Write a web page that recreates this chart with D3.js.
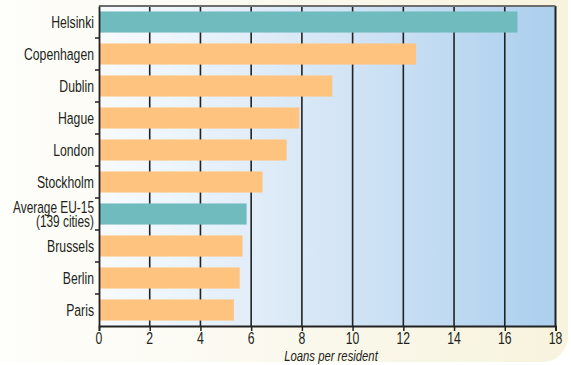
<!DOCTYPE html>
<html>
<head>
<meta charset="utf-8">
<script src="https://cdn.jsdelivr.net/npm/d3@7"></script>
<style>
  html, body { margin: 0; padding: 0; background: #ffffff; }
  svg { display: block; }
  text { font-family: "Liberation Sans", Arial, sans-serif; fill: #231f20; }
</style>
</head>
<body>
<script>
const categories = ["Helsinki", "Copenhagen", "Dublin", "Hague", "London", "Stockholm", "Average EU-15|(139 cities)", "Brussels", "Berlin", "Paris"];
const values = [16.5, 12.5, 9.2, 7.9, 7.4, 6.45, 5.82, 5.66, 5.55, 5.32];
const highlighted = [true, false, false, false, false, false, true, false, false, false];
const xTicks = [0, 2, 4, 6, 8, 10, 12, 14, 16, 18];
const xTitle = "Loans per resident";

const W = 571, H = 365;
const margin = { left: 99, right: 15, top: 6, bottom: 39 };
const SX = 0.72; // condensed look

const svg = d3.select("body").append("svg").attr("width", W).attr("height", H);
const defs = svg.append("defs");

const pg = defs.append("linearGradient").attr("id", "panelGrad").attr("x1", "0").attr("x2", "1").attr("y1", "0").attr("y2", "0");
pg.append("stop").attr("offset", "0").attr("stop-color", "#fefefb");
pg.append("stop").attr("offset", "0.35").attr("stop-color", "#fcfbf4");
pg.append("stop").attr("offset", "1").attr("stop-color", "#f7f3dd");

const bg = defs.append("linearGradient").attr("id", "plotGrad").attr("x1", "0").attr("x2", "1").attr("y1", "0").attr("y2", "0");
bg.append("stop").attr("offset", "0").attr("stop-color", "#f8fbfe");
bg.append("stop").attr("offset", "0.5").attr("stop-color", "#d6e6f6");
bg.append("stop").attr("offset", "1").attr("stop-color", "#abcfee");

// panel
svg.append("rect").attr("x", -30).attr("y", -30).attr("width", 598).attr("height", 392)
  .attr("rx", 26).attr("fill", "url(#panelGrad)");

const x = d3.scaleLinear().domain([0, 18]).range([margin.left, W - margin.right - 0.5]);
const y = d3.scaleBand().domain(categories).range([margin.top, H - margin.bottom]).paddingInner(0.34).paddingOuter(0.17);
const yEdge = d3.scaleBand().domain(categories).range([margin.top, H - margin.bottom]);

// plot background
svg.append("rect").attr("x", x(0)).attr("y", margin.top).attr("width", x(18) - x(0)).attr("height", H - margin.bottom - margin.top)
  .attr("fill", "url(#plotGrad)");

// grid lines
svg.append("g").selectAll("line").data(xTicks.filter(d => d > 0)).join("line")
  .attr("x1", d => x(d)).attr("x2", d => x(d))
  .attr("y1", margin.top).attr("y2", H - margin.bottom)
  .attr("stroke", "#222").attr("stroke-width", d => d === 18 ? 2 : 1.6);

// top border
svg.append("line").attr("x1", x(0)).attr("x2", x(18)).attr("y1", margin.top).attr("y2", margin.top)
  .attr("stroke", "#6d6d6d").attr("stroke-width", 1.8);

// bars
svg.append("g").selectAll("rect").data(categories).join("rect")
  .attr("x", x(0))
  .attr("y", d => y(d))
  .attr("width", (d, i) => x(values[i]) - x(0))
  .attr("height", y.bandwidth())
  .attr("fill", (d, i) => highlighted[i] ? "#70bbbd" : "#fec47f");

// left axis
const yAxis = d3.axisLeft(yEdge).tickSize(0).tickFormat("");
const gy = svg.append("g").attr("transform", `translate(${x(0)},0)`).call(yAxis);
gy.select(".domain").attr("stroke", "#222").attr("stroke-width", 1.8);
svg.append("g").selectAll("line").data(categories.slice(1)).join("line")
  .attr("x1", x(0) - 4).attr("x2", x(0))
  .attr("y1", d => yEdge(d)).attr("y2", d => yEdge(d))
  .attr("stroke", "#222").attr("stroke-width", 1.5);

// category labels
const labels = svg.append("g");
categories.forEach((c) => {
  const parts = c.split("|");
  const cy = y(c) + y.bandwidth() / 2;
  const g = labels.append("g").attr("transform", `translate(${x(0) - 5},${cy}) scale(${SX},1)`);
  const t = g.append("text").attr("text-anchor", "end").attr("x", 0);
  if (parts.length === 1) {
    t.attr("font-size", 17).attr("y", 0).attr("dy", "0.35em").text(c);
  } else {
    t.attr("font-size", 16.5);
    parts.forEach((p, k) => {
      t.append("tspan").attr("x", 0).attr("y", k === 0 ? -6.5 : 7).attr("dy", "0.35em").text(p);
    });
  }
});

// bottom axis
const xAxis = d3.axisBottom(x).tickValues(xTicks).tickSize(5).tickFormat("");
const gx = svg.append("g").attr("transform", `translate(0,${H - margin.bottom})`).call(xAxis);
gx.select(".domain").attr("stroke", "#222").attr("stroke-width", 1.8);
gx.selectAll(".tick line").attr("stroke", "#222").attr("stroke-width", 1.5);

svg.append("g").selectAll("g").data(xTicks).join("g")
  .attr("transform", d => `translate(${x(d)},343.5) scale(${SX},1)`)
  .append("text").attr("text-anchor", "middle").attr("font-size", 17).text(d => d);

svg.append("g").attr("transform", `translate(331,360.5) scale(0.73,1)`)
  .append("text").attr("text-anchor", "middle")
  .attr("font-size", 15.5).attr("font-style", "italic").text(xTitle);
</script>
</body>
</html>
